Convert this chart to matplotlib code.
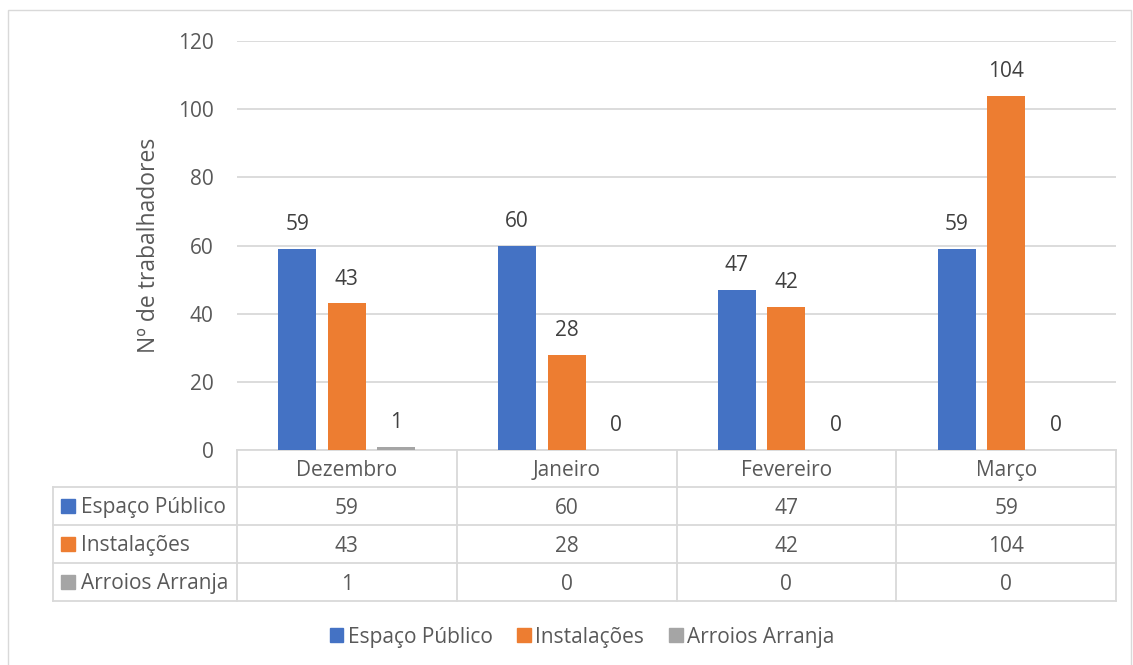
import matplotlib.pyplot as plt
import matplotlib.transforms as mtransforms
from matplotlib.patches import Patch, Rectangle
from matplotlib.lines import Line2D

months = ["Dezembro", "Janeiro", "Fevereiro", "Março"]
series_names = ["Espaço Público", "Instalações", "Arroios Arranja"]
espaco = [59, 60, 47, 59]
instal = [43, 28, 42, 104]
arroios = [1, 0, 0, 0]
series = [espaco, instal, arroios]
colors = ["#4472C4", "#ED7D31", "#A5A5A5"]

W, H = 1133, 665
grid_c = "#D9D9D9"
txt_c = "#595959"
lbl_c = "#404040"
fs = 15

plt.rcParams['font.family'] = ['Open Sans', 'DejaVu Sans']

fig = plt.figure(figsize=(W / 100, H / 100), dpi=100)

def fy(py):
    return 1 - py / H

ax = fig.add_axes([237 / W, fy(450), (1116 - 237) / W, (450 - 41) / H])

# bars
bw = 0.173
step = 0.225
for k, vals in enumerate(series):
    xs = [i + (k - 1) * step for i in range(len(months))]
    bars = ax.bar(xs, vals, width=bw, color=colors[k], zorder=3)
    for b, v in zip(bars, vals):
        ax.annotate(str(v), (b.get_x() + b.get_width() / 2, v),
                    xytext=(0, 17.5), textcoords="offset points",
                    ha="center", va="center", fontsize=fs, color=lbl_c)

ax.set_xlim(-0.5, len(months) - 0.5)
ax.set_ylim(0, 120)
ax.set_yticks(range(0, 121, 20))
ax.yaxis.grid(True, color=grid_c, lw=1.3, zorder=0)
ax.set_xticks([])
ax.tick_params(axis="y", length=0, pad=17, labelsize=fs, labelcolor=txt_c)
for s in ["top", "right", "left"]:
    ax.spines[s].set_visible(False)
ax.spines["bottom"].set_color(grid_c)
ax.spines["bottom"].set_linewidth(1.3)
ax.set_ylabel("Nº de trabalhadores", fontsize=16.5, color=txt_c, labelpad=12)

# data table below the plot
tr = mtransforms.blended_transform_factory(ax.transData, fig.transFigure)
row_y = [450, 487, 525, 563, 601]
lw = 1.3
n = len(months)
# horizontal lines
for py in row_y[1:]:
    fig.add_artist(Line2D([53 / W, 1116 / W], [fy(py)] * 2, color=grid_c, lw=lw))
# vertical lines in the value area
for i in range(n + 1):
    fig.add_artist(Line2D([i - 0.5] * 2, [fy(450), fy(601)], transform=tr,
                          color=grid_c, lw=lw))
fig.add_artist(Line2D([53 / W] * 2, [fy(487), fy(601)], color=grid_c, lw=lw))

dy = 2 / H  # small nudge so text sits centred like the original
for i, m in enumerate(months):
    fig.text(i, fy((row_y[0] + row_y[1]) / 2) - dy, m, transform=tr,
             ha="center", va="center", fontsize=fs, color=txt_c)
for k, vals in enumerate(series):
    yc = fy((row_y[k + 1] + row_y[k + 2]) / 2)
    fig.add_artist(Rectangle((61 / W, yc - 7 / H), 14 / W, 14 / H,
                             color=colors[k], transform=fig.transFigure))
    fig.text(81 / W, yc - dy, series_names[k], ha="left", va="center",
             fontsize=fs, color=txt_c)
    for i, v in enumerate(vals):
        fig.text(i, yc - dy, str(v), transform=tr, ha="center", va="center",
                 fontsize=fs, color=txt_c)

# legend
handles = [Patch(color=c, label=s) for c, s in zip(colors, series_names)]
fig.legend(handles=handles, loc="center", bbox_to_anchor=(582 / W, fy(637)),
           ncol=3, frameon=False, fontsize=fs, labelcolor=txt_c,
           handlelength=0.65, handleheight=0.65, handletextpad=0.2,
           columnspacing=1.2)

# chart border
fig.add_artist(Rectangle((8 / W, -0.01), (1131 - 8) / W, fy(10) + 0.01,
                         fill=False, edgecolor=grid_c, lw=1,
                         transform=fig.transFigure))

fig.savefig("out.png", dpi=100)
